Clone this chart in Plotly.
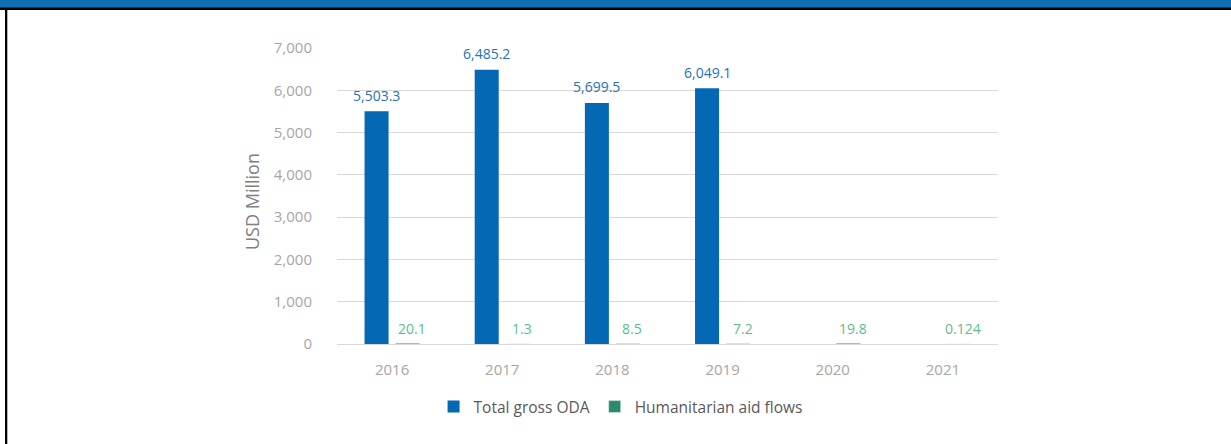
import plotly.graph_objects as go

years = ["2016", "2017", "2018", "2019", "2020", "2021"]
total_oda = [5503.3, 6485.2, 5699.5, 6049.1, None, None]
humanitarian = [20.1, 1.3, 8.5, 7.2, 19.8, 0.124]
oda_labels = ["5,503.3", "6,485.2", "5,699.5", "6,049.1", "", ""]
hum_labels = ["20.1", "1.3", "8.5", "7.2", "19.8", "0.124"]
y_ticks = [0, 1000, 2000, 3000, 4000, 5000, 6000, 7000]
y_ticktext = ["0", "1,000", "2,000", "3,000", "4,000", "5,000", "6,000", "7,000"]
y_title = "USD Million"

W, H = 1231, 444
ML, MR, MT, MB = 337, 233, 48, 100
PW, PH = W - ML - MR, H - MT - MB

def px(X):
    return (X - ML) / PW

def py(Y):
    return (H - MB - Y) / PH

BLUE = "#0468B4"
GREEN = "#2E8B6A"

fig = go.Figure()
fig.add_trace(go.Bar(x=years, y=total_oda, name="Total gross ODA",
                     marker_color=BLUE, marker_line_width=0, width=0.218, offset=-0.25))
fig.add_trace(go.Bar(x=years, y=humanitarian, name="Humanitarian aid flows",
                     marker_color=GREEN, width=0.218, offset=0.032))

annotations = []
for i, (v, t) in enumerate(zip(total_oda, oda_labels)):
    if v is None:
        continue
    annotations.append(dict(x=i, y=v, xref="x", yref="y", text=t, showarrow=False,
                            xshift=-15.5, yshift=16, yanchor="middle",
                            font=dict(size=14, color="#2771B8")))
for i, (v, t) in enumerate(zip(humanitarian, hum_labels)):
    annotations.append(dict(x=i, y=v, xref="x", yref="y", text=t, showarrow=False,
                            xshift=20, yshift=15, yanchor="middle",
                            font=dict(size=14, color="#5BBE8E")))
annotations.append(dict(x=px(252), y=py(202), xref="paper", yref="paper", text=y_title,
                        textangle=-90, showarrow=False, xanchor="center", yanchor="middle",
                        font=dict(size=18, color="#808080")))

shapes = [
    dict(type="rect", xref="paper", yref="paper", x0=px(-2), x1=px(W + 2),
         y0=py(8), y1=py(-2), fillcolor="#1170B5", line_width=0, layer="above"),
    dict(type="rect", xref="paper", yref="paper", x0=px(-2), x1=px(W + 2),
         y0=py(10), y1=py(7.5), fillcolor="#000000", line_width=0, layer="above"),
    dict(type="rect", xref="paper", yref="paper", x0=px(5), x1=px(7.3),
         y0=py(H + 2), y1=py(8), fillcolor="#000000", line_width=0, layer="above"),
]

fig.update_layout(
    width=W, height=H,
    margin=dict(l=ML, r=MR, t=MT, b=MB, pad=0),
    paper_bgcolor="white", plot_bgcolor="white",
    font=dict(family="Open Sans, Noto Sans, sans-serif", size=15, color="#a6a6a6"),
    barmode="group",
    showlegend=True,
    legend=dict(orientation="h", x=0.429, xanchor="center", y=py(407), yanchor="middle",
                font=dict(size=15.5, color="#595959"), itemwidth=30, tracegroupgap=0,
                bgcolor="rgba(0,0,0,0)"),
    annotations=annotations,
    shapes=shapes,
    bargap=0.2,
)
fig.update_xaxes(type="category", range=[-0.5, len(years) - 0.5],
                 showgrid=False, showline=False, zeroline=False,
                 ticks="outside", ticklen=12, tickcolor="rgba(0,0,0,0)",
                 tickfont=dict(size=15, color="#a6a6a6"))
fig.update_yaxes(range=[0, 7000], tickvals=y_ticks, ticktext=y_ticktext,
                 showgrid=True, gridcolor="#d9d9d9", gridwidth=1,
                 zeroline=True, zerolinecolor="#d9d9d9", zerolinewidth=1,
                 ticks="outside", ticklen=21, tickcolor="rgba(0,0,0,0)",
                 tickfont=dict(size=15, color="#a6a6a6"))

fig.write_html("out.html", config={"displayModeBar": False})
